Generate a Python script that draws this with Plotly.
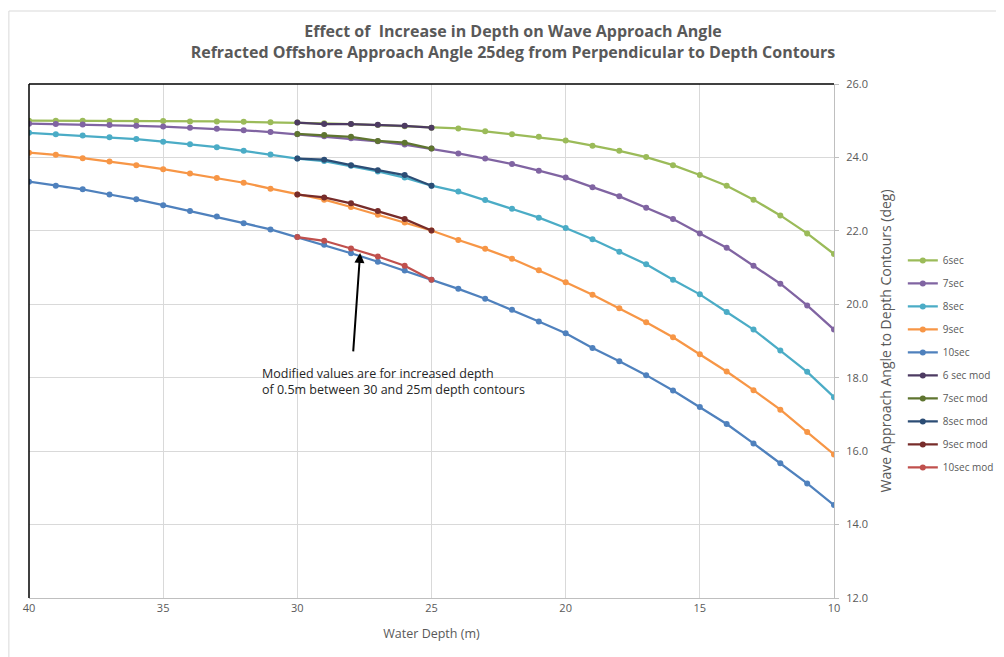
import plotly.graph_objects as go

depth = [40, 39, 38, 37, 36, 35, 34, 33, 32, 31, 30, 29, 28, 27, 26, 25,
         24, 23, 22, 21, 20, 19, 18, 17, 16, 15, 14, 13, 12, 11, 10]

sec6 = [25.00, 25.00, 25.00, 24.99, 24.99, 24.99, 24.98, 24.98, 24.97, 24.96, 24.95,
        24.93, 24.91, 24.88, 24.85, 24.81,
        24.79, 24.71, 24.63, 24.56, 24.46,
        24.32, 24.18, 24.01, 23.79, 23.52, 23.23, 22.85, 22.42, 21.93, 21.37]
sec7 = [24.92, 24.91, 24.90, 24.88, 24.86, 24.84, 24.81, 24.78, 24.74, 24.69, 24.63,
        24.58, 24.52, 24.44, 24.35, 24.24,
        24.11, 23.97, 23.82, 23.64, 23.45,
        23.19, 22.94, 22.63, 22.32, 21.93, 21.54, 21.05, 20.56, 19.97, 19.31]
sec8 = [24.67, 24.63, 24.60, 24.55, 24.50, 24.43, 24.36, 24.28, 24.18, 24.08, 23.97,
        23.90, 23.77, 23.62, 23.45, 23.23,
        23.07, 22.84, 22.60, 22.36, 22.08,
        21.77, 21.43, 21.09, 20.67, 20.27, 19.79, 19.31, 18.74, 18.16, 17.47]
sec9 = [24.13, 24.07, 23.98, 23.89, 23.79, 23.68, 23.56, 23.44, 23.31, 23.15, 22.99,
        22.85, 22.65, 22.44, 22.23, 22.01,
        21.75, 21.51, 21.24, 20.93, 20.60,
        20.26, 19.89, 19.51, 19.10, 18.64, 18.17, 17.66, 17.13, 16.52, 15.91]
sec10 = [23.34, 23.23, 23.13, 22.99, 22.86, 22.70, 22.54, 22.39, 22.21, 22.04, 21.83,
         21.62, 21.39, 21.16, 20.92, 20.67,
         20.42, 20.15, 19.85, 19.53, 19.21,
         18.81, 18.45, 18.07, 17.65, 17.20, 16.74, 16.21, 15.67, 15.12, 14.53]

mod_depth = [30, 29, 28, 27, 26, 25]
mod6 = [24.95, 24.91, 24.91, 24.89, 24.86, 24.81]
mod7 = [24.64, 24.61, 24.56, 24.45, 24.40, 24.24]
mod8 = [23.97, 23.94, 23.79, 23.65, 23.52, 23.23]
mod9 = [22.99, 22.91, 22.75, 22.54, 22.32, 22.01]
mod10 = [21.83, 21.73, 21.52, 21.30, 21.05, 20.67]

y_ticks = [12, 14, 16, 18, 20, 22, 24, 26]
x_ticks = [40, 35, 30, 25, 20, 15, 10]

series = [
    ("6sec", depth, sec6, "#9BBB59"),
    ("7sec", depth, sec7, "#8064A2"),
    ("8sec", depth, sec8, "#4BACC6"),
    ("9sec", depth, sec9, "#F79646"),
    ("10sec", depth, sec10, "#4F81BD"),
    ("6 sec mod", mod_depth, mod6, "#4D3B62"),
    ("7sec mod", mod_depth, mod7, "#5F7530"),
    ("8sec mod", mod_depth, mod8, "#2C4D75"),
    ("9sec mod", mod_depth, mod9, "#772C2A"),
    ("10sec mod", mod_depth, mod10, "#C0504D"),
]

FONT = "Open Sans"
GREY = "#595959"

fig = go.Figure()
for name, xs, ys, col in series:
    fig.add_trace(go.Scatter(
        x=xs, y=ys, name=name, mode="lines+markers",
        line=dict(color=col, width=2.25),
        marker=dict(color=col, size=6),
        legendgroup=name,
    ))

fig.update_layout(
    width=996, height=649,
    margin=dict(l=21, r=170, t=76, b=59, autoexpand=False),
    paper_bgcolor="white", plot_bgcolor="white",
    font=dict(family=FONT, color=GREY, size=11),
    title=dict(
        text="Effect of  Increase in Depth on Wave Approach Angle<br>Refracted Offshore Approach Angle 25deg from Perpendicular to Depth Contours",
        x=0.507, xanchor="center", y=0.955, yanchor="top",
        font=dict(family=FONT, size=16, color=GREY, weight="bold"),
    ),
    legend=dict(
        x=1.0855, xanchor="left", y=0.685, yanchor="top",
        font=dict(family=FONT, size=10, color=GREY),
        tracegroupgap=4, itemwidth=30, bgcolor="rgba(0,0,0,0)",
    ),
    showlegend=True,
)

fig.update_xaxes(
    range=[40, 10], tickvals=x_ticks, ticktext=[str(v) for v in x_ticks],
    showgrid=True, gridcolor="#D9D9D9", gridwidth=1,
    showline=True, linecolor="#BFBFBF", linewidth=1,
    ticks="", zeroline=False, automargin=False,
    tickfont=dict(family=FONT, size=11, color=GREY),
    title=dict(text="Water Depth (m)", font=dict(family=FONT, size=12.5, color=GREY), standoff=15),
)
fig.update_yaxes(
    side="right", range=[12, 26], tickvals=y_ticks,
    ticktext=[f"{v:.1f}" for v in y_ticks],
    showgrid=True, gridcolor="#D9D9D9", gridwidth=1,
    showline=True, linecolor="#BFBFBF", linewidth=1,
    ticks="outside", ticklen=4, tickcolor="#BFBFBF",
    ticklabelstandoff=5,
    zeroline=False, automargin=False,
    tickfont=dict(family=FONT, size=11, color=GREY),
    title=dict(text="Wave Approach Angle to Depth Contours (deg)", font=dict(family=FONT, size=14, color=GREY), standoff=14),
)

# black left and top border of plot area
fig.add_shape(type="line", xref="paper", yref="paper", x0=0, x1=0, y0=0, y1=1,
              line=dict(color="black", width=1.5))
fig.add_shape(type="line", xref="paper", yref="paper", x0=0, x1=1, y0=1, y1=1,
              line=dict(color="black", width=1.5))
# outer chart border (light)
fig.add_shape(type="line", xref="paper", yref="paper", x0=-0.025, x1=-0.025, y0=-0.13, y1=1.142,
              line=dict(color="#D9D9D9", width=1))
fig.add_shape(type="line", xref="paper", yref="paper", x0=-0.025, x1=1.22, y0=1.142, y1=1.142,
              line=dict(color="#D9D9D9", width=1))

fig.add_annotation(
    x=27.66, y=21.40, xref="x", yref="y", ax=-7, ay=100, axref="pixel", ayref="pixel",
    showarrow=True, arrowhead=2, arrowsize=1, arrowwidth=2, arrowcolor="black", text="",
)
fig.add_annotation(
    x=0.287, y=0.422, xref="paper", yref="paper", xanchor="left", yanchor="middle",
    align="left", showarrow=False,
    text="Modified values are for increased depth<br>of 0.5m between 30 and 25m depth contours",
    font=dict(family=FONT, size=12.5, color="#262626"),
)

fig.write_html("out.html")
